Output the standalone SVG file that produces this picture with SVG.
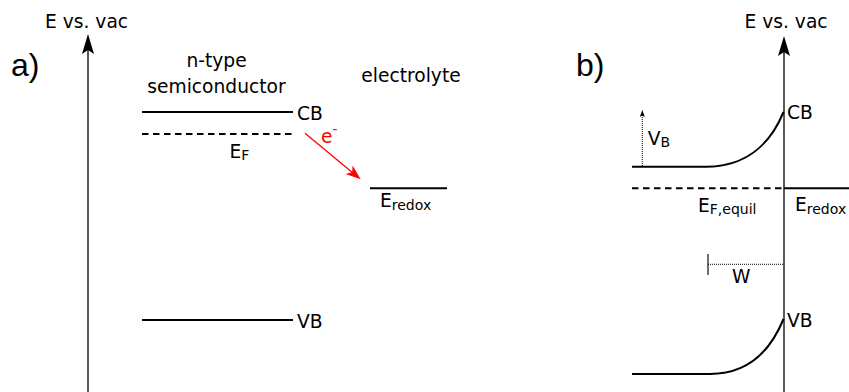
<svg xmlns="http://www.w3.org/2000/svg" width="849" height="392" viewBox="0 0 849 392">
<style>
text{font-family:"DejaVu Sans",sans-serif;font-size:18.67px;fill:#000}
.big{font-family:"Liberation Sans",Arial,sans-serif;font-size:32px}
.sub{font-size:14px}
.red{fill:#ff0000}
.band{stroke:#000;stroke-width:2;fill:none}
.dash{stroke:#000;stroke-width:2;stroke-dasharray:6.5 4.5;fill:none}
.axis{stroke:#222;stroke-width:1.5;fill:none}
.dot{stroke:#000;stroke-width:1;stroke-dasharray:1 1;fill:none}
.tick{stroke:#222;stroke-width:1.3;fill:none}
</style>
<defs>
<marker id="axhead" markerUnits="userSpaceOnUse" orient="auto" overflow="visible" markerWidth="1" markerHeight="1" refX="0" refY="0">
<path d="M10,0 L-10,-6 L-6,0 L-10,6 Z" fill="#000"/>
</marker>
<marker id="redhead" markerUnits="userSpaceOnUse" orient="auto" overflow="visible" markerWidth="1" markerHeight="1" refX="0" refY="0">
<path d="M8,0 L-7,-5.5 L-3,0 L-7,5.5 Z" fill="#ff0000"/>
</marker>
<marker id="smallhead" markerUnits="userSpaceOnUse" orient="auto" overflow="visible" markerWidth="1" markerHeight="1" refX="0" refY="0">
<path d="M4,0 L-3,-2.5 L-1.5,0 L-3,2.5 Z" fill="#000"/>
</marker>
</defs>

<g id="panel-a">
<g id="label-a"><text class="big" x="11" y="76">a)</text></g>
<g id="axis-a">
<line class="axis" x1="88" y1="392" x2="88" y2="44" marker-end="url(#axhead)"/>
<text x="45" y="27.5">E vs. vac</text>
</g>
<g id="title-sc"><text x="216.5" y="66.5" text-anchor="middle">n-type</text><text x="216.5" y="92.7" text-anchor="middle">semiconductor</text></g>
<g id="title-el"><text x="411" y="81.7" text-anchor="middle">electrolyte</text></g>
<g id="cb-a"><line class="band" x1="142" y1="112" x2="293" y2="112"/><text x="297" y="119.5">CB</text></g>
<g id="ef-a"><line class="dash" x1="142" y1="134" x2="295" y2="134"/><text x="229.5" y="157.7">E<tspan class="sub" dy="2.5">F</tspan></text></g>
<g id="eredox-a"><line class="band" x1="370" y1="188.3" x2="447" y2="188.3"/><text x="380" y="207.3">E<tspan class="sub" dy="3">redox</tspan></text></g>
<g id="vb-a"><line class="band" x1="142" y1="320" x2="293" y2="320"/><text x="297" y="327.5">VB</text></g>
<g id="electron"><text class="red" x="321" y="142.7">e<tspan class="sub red" dy="-9">-</tspan></text></g>
</g>

<g id="panel-b">
<g id="label-b"><text class="big" x="576" y="76">b)</text></g>
<g id="axis-b">
<line class="axis" x1="784" y1="392" x2="784" y2="46" marker-end="url(#axhead)"/>
<text x="744.5" y="27.7">E vs. vac</text>
</g>
<g id="cb-b"><path class="band" d="M632,166.7 L706,166.7 C745,166.7 770,145 783.5,112"/><text x="787" y="119">CB</text></g>
<g id="vbend-b"><text x="647.7" y="144.5">V<tspan class="sub" dy="2.5">B</tspan></text></g>
<g id="ef-b"><line class="dash" x1="632" y1="188.3" x2="783" y2="188.3"/><text x="698" y="211.5">E<tspan class="sub" dy="2.8">F,equil</tspan></text></g>
<g id="eredox-b"><line class="band" x1="784" y1="188.3" x2="849" y2="188.3"/><text x="795" y="211">E<tspan class="sub" dy="3">redox</tspan></text></g>
<g id="w-b"><text x="732" y="283.3">W</text></g>
<g id="vb-b"><path class="band" d="M632,374 L710,374 C748,374 770,352 783.5,319"/><text x="787" y="326.7">VB</text></g>
</g>

<g id="connectors">
<line x1="305" y1="133.3" x2="354.5" y2="174.2" stroke="#ff0000" stroke-width="1.3" marker-end="url(#redhead)"/>
<line class="dot" x1="642.3" y1="166" x2="642.3" y2="114" marker-end="url(#smallhead)"/>
<line class="tick" x1="708" y1="254" x2="708" y2="275"/>
<line class="dot" x1="708" y1="264.3" x2="783" y2="264.3"/>
</g>
</svg>
